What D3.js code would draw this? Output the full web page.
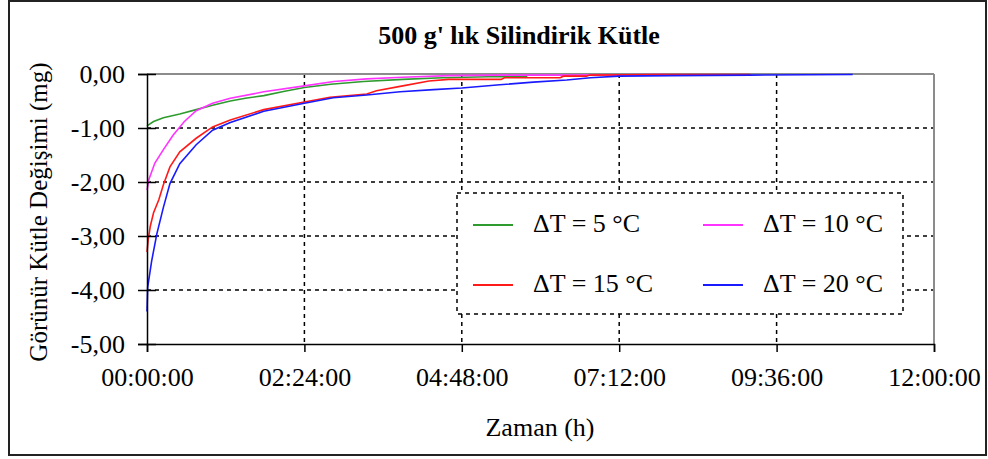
<!DOCTYPE html>
<html><head><meta charset="utf-8">
<script src="https://cdn.jsdelivr.net/npm/d3@7"></script>
<style>
html,body{margin:0;padding:0;background:#fff;}
text{font-family:"Liberation Serif","Times New Roman",serif;fill:#000;}
</style></head>
<body>
<svg id="chart" width="988" height="459"></svg>
<script>
const title = "500 g' lık Silindirik Kütle";
const xTitle = "Zaman (h)";
const yTitle = "Görünür Kütle Değişimi (mg)";
const xTicks = [0, 2.4, 4.8, 7.2, 9.6, 12];
const xTickLabels = ["00:00:00", "02:24:00", "04:48:00", "07:12:00", "09:36:00", "12:00:00"];
const yTicks = [0, -1, -2, -3, -4, -5];
const yTickLabels = ["0,00", "-1,00", "-2,00", "-3,00", "-4,00", "-5,00"];
const seriesNames = ["ΔT = 5 °C", "ΔT = 10 °C", "ΔT = 15 °C", "ΔT = 20 °C"];
const seriesColors = ["#2e9b2e", "#ff33ff", "#ff1a1a", "#1a1aff"];

// time in hours
const t5  = [0, 0.1, 0.25, 0.5, 0.75, 1.0, 1.27, 1.5, 1.78, 2.1, 2.4, 2.8, 3.3, 3.9, 4.5, 5.2, 5.8];
const v5  = [-0.96, -0.88, -0.81, -0.74, -0.66, -0.58, -0.5, -0.45, -0.4, -0.32, -0.25, -0.19, -0.14, -0.1, -0.07, -0.05, -0.05];
const t10 = [0, 0.03, 0.12, 0.25, 0.4, 0.57, 0.75, 1.0, 1.27, 1.78, 2.4, 2.85, 3.35, 3.9, 4.6, 5.4, 6.5, 7.9];
const v10 = [-2.15, -1.95, -1.65, -1.4, -1.13, -0.88, -0.68, -0.54, -0.45, -0.33, -0.22, -0.14, -0.09, -0.06, -0.03, -0.02, -0.02, -0.01];
const t15 = [0, 0.02, 0.05, 0.1, 0.18, 0.25, 0.35, 0.5, 0.75, 1.0, 1.27, 1.78, 2.4, 2.79, 3.35, 3.5, 3.9, 4.3, 4.6, 5.4, 5.45, 6.3, 6.35, 6.7, 6.75, 7.9, 9.2];
const v15 = [-3.3, -3.05, -2.82, -2.57, -2.33, -2.05, -1.72, -1.44, -1.19, -0.98, -0.85, -0.66, -0.52, -0.43, -0.37, -0.31, -0.22, -0.13, -0.1, -0.1, -0.07, -0.07, -0.04, -0.04, -0.02, -0.01, -0.01];
const t20 = [0, 0.01, 0.07, 0.15, 0.25, 0.35, 0.5, 0.75, 1.0, 1.27, 1.78, 2.4, 2.84, 3.35, 3.86, 4.37, 4.8, 5.38, 5.89, 6.4, 6.76, 7.2, 8.0, 9.2, 10.76];
const v20 = [-4.4, -3.95, -3.47, -2.96, -2.47, -2.03, -1.66, -1.31, -1.04, -0.9, -0.69, -0.54, -0.44, -0.39, -0.33, -0.29, -0.26, -0.2, -0.15, -0.11, -0.07, -0.04, -0.03, -0.02, -0.01];

const seriesT = [t5, t10, t15, t20];
const seriesV = [v5, v10, v15, v20];

const svg = d3.select("#chart");
const W = 988, H = 459;
const L = 147, R = 934, T = 74, B = 344;

svg.append("rect").attr("width", W).attr("height", H).attr("fill", "#fff");
svg.append("rect").attr("x", 9).attr("y", 1).attr("width", 977).attr("height", 454)
  .attr("fill", "none").attr("stroke", "#222").attr("stroke-width", 2);

const x = d3.scaleLinear().domain([0, 12]).range([L, R]);
const y = d3.scaleLinear().domain([-5, 0]).range([B, T]);

// gridlines
const grid = svg.append("g").attr("stroke", "#000").attr("stroke-width", 1.5).attr("stroke-dasharray", "4,4");
yTicks.filter(d => d !== 0 && d !== -5).forEach(d => {
  grid.append("line").attr("x1", L).attr("x2", R).attr("y1", y(d)).attr("y2", y(d));
});
xTicks.filter(d => d !== 0 && d !== 12).forEach(d => {
  grid.append("line").attr("y1", T).attr("y2", B).attr("x1", x(d)).attr("x2", x(d));
});

// plot border top/right gray
svg.append("line").attr("x1", L).attr("x2", R).attr("y1", T).attr("y2", T).attr("stroke", "#8c8c8c").attr("stroke-width", 2);
svg.append("line").attr("x1", R).attr("x2", R).attr("y1", T).attr("y2", B).attr("stroke", "#8c8c8c").attr("stroke-width", 2);

// series
const line = d3.line().x(d => x(d[0])).y(d => y(d[1])).curve(d3.curveLinear);
seriesT.forEach((ts, i) => {
  const pts = ts.map((t, j) => [t, seriesV[i][j]]);
  svg.append("path").attr("d", line(pts)).attr("fill", "none")
    .attr("stroke", seriesColors[i]).attr("stroke-width", 1.6);
});

// axes
const xAxis = d3.axisBottom(x).tickValues(xTicks).tickSize(8).tickPadding(22)
  .tickFormat((d, i) => xTickLabels[i]);
const gx = svg.append("g").attr("transform", `translate(0,${B})`).call(xAxis);
gx.select(".domain").attr("stroke", "#000").attr("stroke-width", 1.5);
gx.selectAll(".tick line").attr("stroke", "#000").attr("stroke-width", 1.5);
gx.selectAll(".tick text").attr("font-size", 26).attr("font-family", "Liberation Serif").attr("dy", "0.45em");

const yAxis = d3.axisLeft(y).tickValues(yTicks).tickSize(9).tickPadding(13)
  .tickFormat((d, i) => yTickLabels[i]);
const gy = svg.append("g").attr("transform", `translate(${L},0)`).call(yAxis);
gy.select(".domain").attr("stroke", "#000").attr("stroke-width", 1.5);
gy.selectAll(".tick line").attr("stroke", "#000").attr("stroke-width", 1.5).attr("x2", 9).attr("x1", -9);
gy.selectAll(".tick text").attr("font-size", 26).attr("font-family", "Liberation Serif").attr("x", -22).attr("dy", "0.34em");

// titles
svg.append("text").attr("x", 519).attr("y", 44).attr("text-anchor", "middle")
  .attr("font-size", 26).attr("font-weight", "bold").text(title);
svg.append("text").attr("x", 540).attr("y", 436).attr("text-anchor", "middle")
  .attr("font-size", 26).text(xTitle);
svg.append("text").attr("transform", "translate(47,212) rotate(-90)").attr("text-anchor", "middle")
  .attr("font-size", 25).text(yTitle);

// legend
const lg = svg.append("g");
lg.append("rect").attr("x", 457).attr("y", 193).attr("width", 446).attr("height", 121)
  .attr("fill", "#fff").attr("stroke", "#000").attr("stroke-width", 1.5).attr("stroke-dasharray", "4,4");
const legPos = [[473, 225], [703, 225], [473, 285], [703, 285]];
seriesNames.forEach((name, i) => {
  const [lx, ly] = legPos[i];
  lg.append("line").attr("x1", lx).attr("x2", lx + 40).attr("y1", ly).attr("y2", ly)
    .attr("stroke", seriesColors[i]).attr("stroke-width", 2);
  lg.append("text").attr("x", lx + 60).attr("y", ly + 7).attr("font-size", 26).text(name);
});
</script>
</body></html>
